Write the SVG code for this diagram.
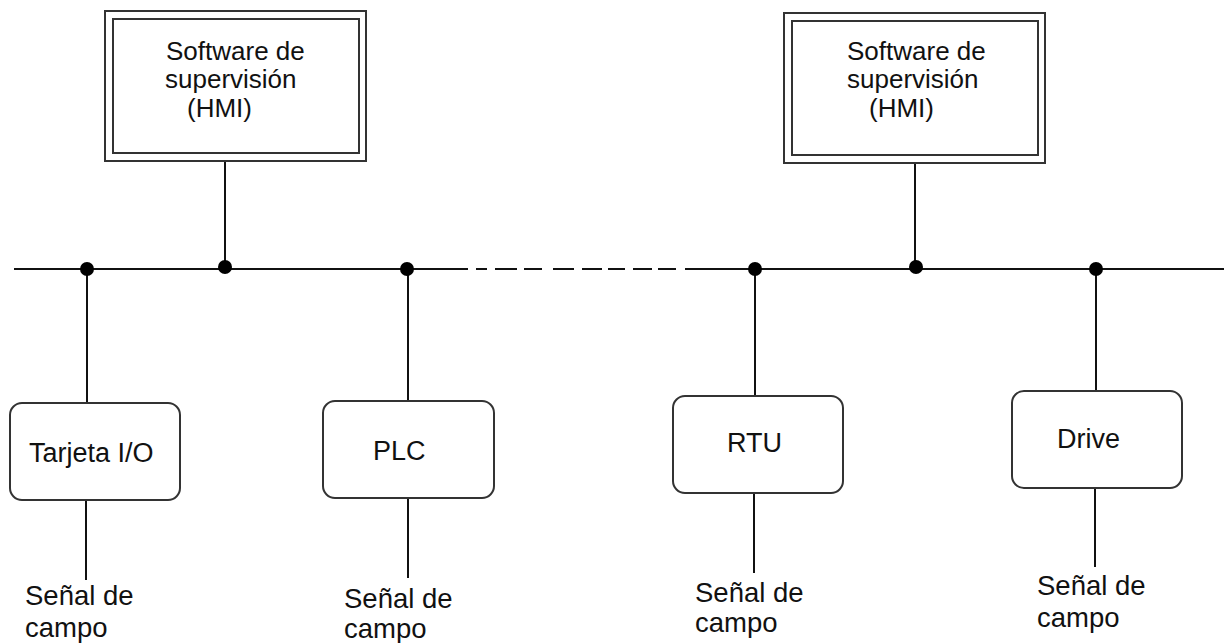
<svg xmlns="http://www.w3.org/2000/svg" width="1224" height="643" viewBox="0 0 1224 643">
<style>
text{font-family:"Liberation Sans",Arial,sans-serif;font-size:26px;fill:#111}
.lbl{font-size:27px}
.sig{font-size:27.5px}
.ln{stroke:#111;stroke-width:2;fill:none}
.box{fill:#fff;stroke:#333;stroke-width:2}
.dot{fill:#000}
</style>
<rect width="1224" height="643" fill="#fff"/>
<g id="connectors">
<path class="ln" d="M14 269H468M685 269H1224"/>
<path class="ln" d="M476 269H487M495 269H517M524 269H542M553 269H574M582 269H602M608 269H625M633 269H652M658 269H676"/>
<path class="ln" d="M225 161V269M915 163V269"/>
<path class="ln" d="M87 269V403M86 500V580"/>
<path class="ln" d="M408 269V401M408 498V578"/>
<path class="ln" d="M755 269V396M754 493V573"/>
<path class="ln" d="M1096 269V391M1095 488V567"/>
<circle class="dot" cx="87" cy="269" r="7"/>
<circle class="dot" cx="225" cy="267" r="7"/>
<circle class="dot" cx="407" cy="269" r="7"/>
<circle class="dot" cx="755" cy="269" r="7"/>
<circle class="dot" cx="916" cy="267" r="7"/>
<circle class="dot" cx="1096" cy="269" r="7"/>
</g>
<g id="hmi1">
<rect class="box" x="105" y="11" width="261" height="150"/>
<rect class="box" x="113" y="19" width="246" height="134"/>
<text x="166" y="60">Software de</text>
<text x="165" y="88">supervisión</text>
<text x="187" y="117">(HMI)</text>
</g>
<g id="hmi2">
<rect class="box" x="784" y="13" width="261" height="150"/>
<rect class="box" x="792" y="21" width="246" height="134"/>
<text x="847" y="60">Software de</text>
<text x="847" y="88">supervisión</text>
<text x="869" y="117">(HMI)</text>
</g>
<g id="tarjeta">
<rect class="box" x="10" y="403" width="170" height="97" rx="12"/>
<text class="lbl" x="29" y="462">Tarjeta I/O</text>
<text class="sig" x="25" y="605">Señal de</text>
<text class="sig" x="25" y="637">campo</text>
</g>
<g id="plc">
<rect class="box" x="323" y="401" width="171" height="97" rx="12"/>
<text class="lbl" x="373" y="460">PLC</text>
<text class="sig" x="344" y="608">Señal de</text>
<text class="sig" x="344" y="638">campo</text>
</g>
<g id="rtu">
<rect class="box" x="673" y="396" width="170" height="97" rx="12"/>
<text class="lbl" x="727" y="452">RTU</text>
<text class="sig" x="695" y="602">Señal de</text>
<text class="sig" x="695" y="632">campo</text>
</g>
<g id="drive">
<rect class="box" x="1012" y="391" width="170" height="97" rx="12"/>
<text class="lbl" x="1057" y="448">Drive</text>
<text class="sig" x="1037" y="595">Señal de</text>
<text class="sig" x="1037" y="627">campo</text>
</g>
</svg>
